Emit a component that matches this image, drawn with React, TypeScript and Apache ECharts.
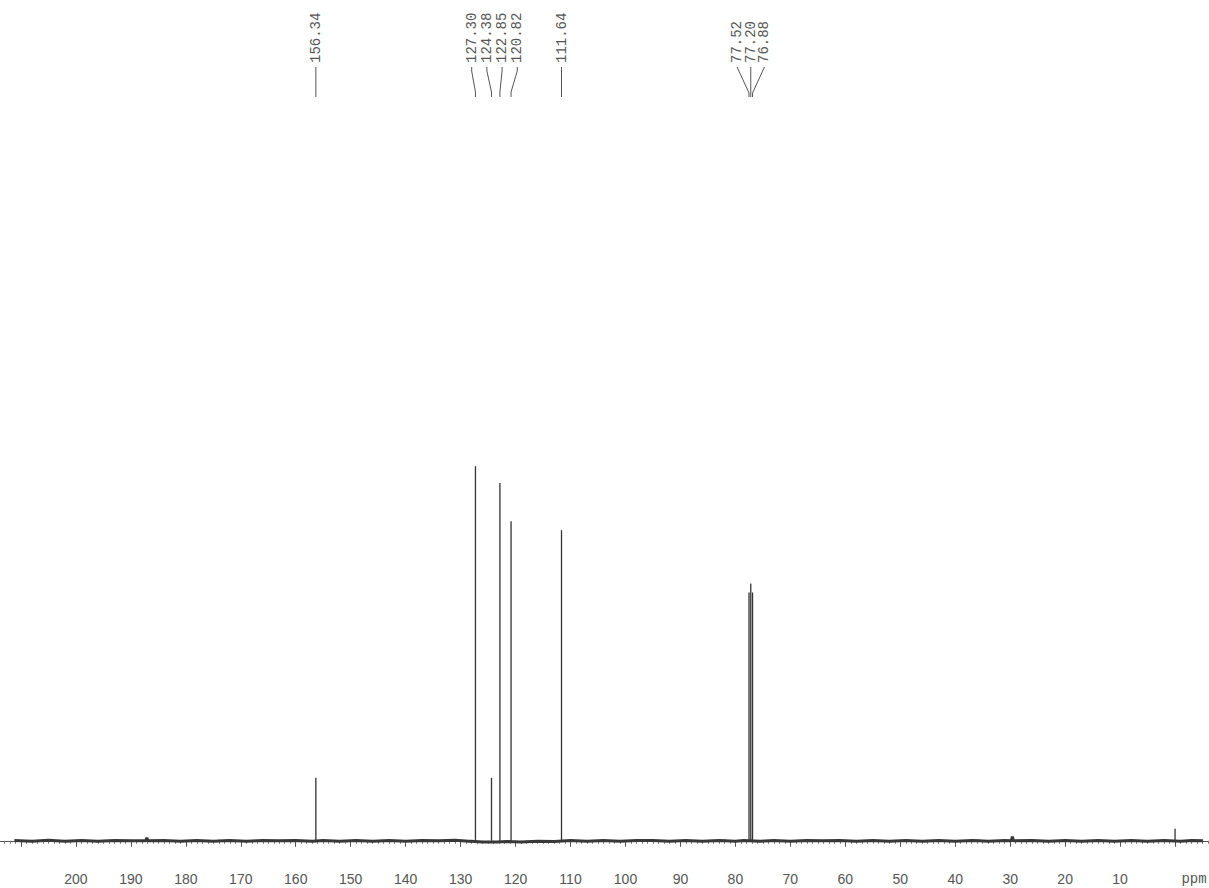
import React, { useEffect, useRef } from "react";
import * as echarts from "echarts";

// Peak positions (ppm) and relative intensities (tallest = 100)
const PEAK_PPM = [156.34, 127.3, 124.38, 122.85, 120.82, 111.64, 77.52, 77.2, 76.88, 0.0];
const PEAK_INT = [16.8, 100, 16.8, 95.5, 85.3, 82.9, 66.3, 68.7, 66.3, 3.2];

// Peak pick labels and how they are grouped at the top
const LABEL_TEXT = ["156.34", "127.30", "124.38", "122.85", "120.82", "111.64", "77.52", "77.20", "76.88"];
const LABEL_GROUPS = [[0], [1, 2, 3, 4], [5], [6, 7, 8]];

// Baseline (noise level) estimated along the spectrum
const BASE_PPM = [
  211.2, 208, 205, 202, 199, 196, 193, 190, 187.3, 187.1, 186.9, 184, 181, 178, 175, 172, 169, 166, 163, 160, 157,
  155, 152, 149, 146, 143, 140, 137, 134, 131, 128.5, 126, 123.5, 121.5, 119, 116, 113, 110, 107, 104, 101,
  98, 95, 92, 89, 86, 83, 80, 78.5, 75.5, 73, 70, 67, 64, 61, 58, 55, 52, 49, 46, 43, 40, 37, 34, 31, 29.8, 29.6,
  29.4, 26, 23, 20, 17, 14, 11, 8, 5, 2, -1, -3, -5.1,
];
const BASE_INT = [
  0.1, -0.1, 0.15, -0.1, 0.1, -0.15, 0.1, 0.0, 0.0, 0.8, 0.0, 0.1, -0.1, 0.05, -0.1, 0.1, -0.1, 0.1, 0.0, 0.1, -0.1,
  0.05, -0.15, 0.1, -0.1, 0.05, -0.1, 0.1, 0.0, 0.15, -0.1, -0.3, -0.3, -0.2, -0.3, -0.1, -0.2, 0.05, -0.1, 0.1, -0.1,
  0.05, 0.1, -0.1, 0.1, -0.1, 0.05, -0.1, 0.1, -0.1, 0.05, -0.1, 0.1, 0.0, 0.1, -0.1, 0.05, -0.1, 0.1, -0.1, 0.05,
  -0.1, 0.1, -0.1, 0.05, 0.0, 1.1, 0.0, 0.05, -0.1, 0.1, -0.1, 0.05, -0.1, 0.1, -0.1, 0.05, -0.1, 0.1, 0.0,
];

// Tick labels shown on the ppm axis
const TICK_LABELS = [200, 190, 180, 170, 160, 150, 140, 130, 120, 110, 100, 90, 80, 70, 60, 50, 40, 30, 20, 10];
const UNIT_LABEL = "ppm";

export default function App() {
  const ref = useRef<HTMLDivElement>(null);

  useEffect(() => {
    if (!ref.current) return;
    const chart = echarts.init(ref.current, undefined, { renderer: "svg" });

    const baseData = BASE_PPM.map((p, i) => [p, BASE_INT[i]]);
    const peakData = PEAK_PPM.map((p, i) => [p, PEAK_INT[i]]);

    chart.setOption({
      animation: false,
      backgroundColor: "#ffffff",
      grid: { left: 0, right: 0, top: 100, bottom: 27, containLabel: false },
      xAxis: {
        type: "value",
        inverse: true,
        min: -10,
        max: 220,
        interval: 10,
        axisLine: { lineStyle: { color: "#555", width: 1 } },
        axisTick: { show: true, length: 6, lineStyle: { color: "#555", width: 1 } },
        minorTick: { show: true, splitNumber: 10, length: 3, lineStyle: { color: "#777", width: 1 } },
        splitLine: { show: false },
        axisLabel: {
          margin: 11,
          color: "#555",
          fontSize: 14,
          fontFamily: "Liberation Sans",
          formatter: (v: number) => {
            if (v === 0) return "{p|" + UNIT_LABEL + "}";
            return TICK_LABELS.indexOf(v) >= 0 ? String(v) : "";
          },
          rich: {
            p: { fontFamily: "Liberation Mono", fontSize: 14, color: "#555", padding: [0, 0, 0, 38] },
          },
        },
      },
      yAxis: {
        type: "value",
        min: -5.4,
        max: 197.8,
        show: false,
        splitLine: { show: false },
      },
      series: [
        {
          type: "line",
          data: baseData,
          symbol: "none",
          lineStyle: { color: "#383838", width: 3 },
          z: 2,
        },
        {
          type: "bar",
          data: peakData,
          barWidth: 1.3,
          itemStyle: { color: "#333" },
          z: 3,
        },
      ],
    });

    const px = (p: number) => chart.convertToPixel({ xAxisIndex: 0 }, p) as number;
    const graphics: any[] = [];
    const TEXT_Y = 63;
    LABEL_GROUPS.forEach((grp) => {
      const pxs = grp.map((i) => px(PEAK_PPM[i]));
      const mean = pxs.reduce((a, b) => a + b, 0) / pxs.length;
      const spacing = grp.length === 4 ? 15.2 : 13.7;
      grp.forEach((idx, k) => {
        const peakX = pxs[k];
        const tx = grp.length === 1 ? peakX : mean + (k - (grp.length - 1) / 2) * spacing;
        graphics.push({
          type: "text",
          x: tx,
          y: TEXT_Y,
          rotation: Math.PI / 2,
          style: {
            text: LABEL_TEXT[idx],
            font: '14px "Liberation Mono"',
            fill: "#555",
            align: "left",
            verticalAlign: "middle",
          },
        });
        const pts =
          grp.length === 3
            ? [[tx, 67], [peakX, 93], [peakX, 97]]
            : [[tx, 67], [tx, 71], [peakX, 92], [peakX, 97]];
        graphics.push({
          type: "polyline",
          shape: { points: pts },
          style: { stroke: "#555", lineWidth: 1, fill: null },
        });
      });
    });
    chart.setOption({ graphic: graphics });

    return () => chart.dispose();
  }, []);

  return (
    <div
      ref={ref}
      style={{ position: "fixed", left: -37, top: 0, width: 1270, height: 888, background: "#fff" }}
    />
  );
}
